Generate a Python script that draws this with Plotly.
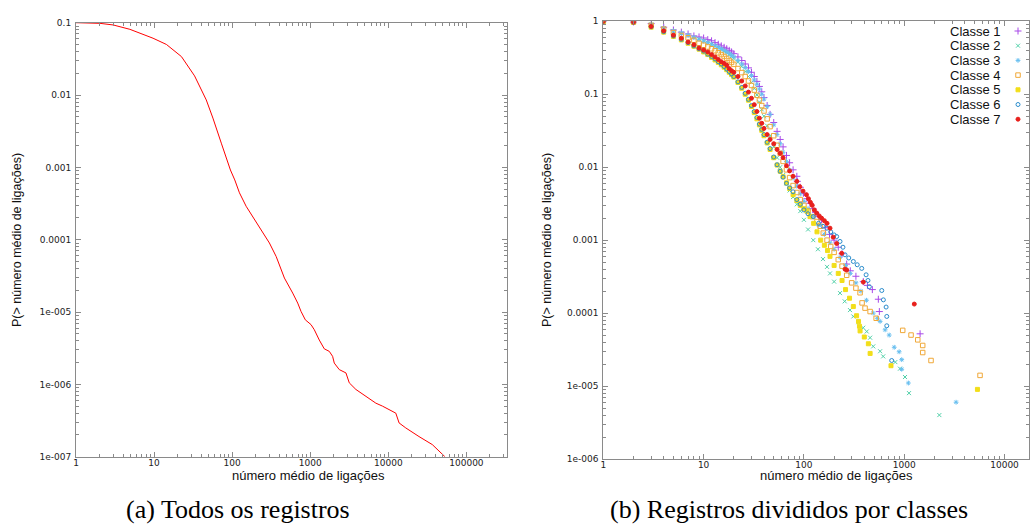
import plotly.graph_objects as go

# ---------------- data: (a) all records ----------------
all_x = [1, 2.03, 3.0, 4.9, 9.7, 14.4, 22.4, 33, 46.6, 56.7, 72.6, 88, 95, 108, 124, 151, 193, 247,
         300, 366, 444, 467, 596, 691, 762, 865, 1023, 1127, 1306, 1513, 1754, 1934, 2032, 2354,
         2866, 3160, 3846, 5160, 6920, 8420, 12470, 13740, 16720, 24700, 36600, 53100]
all_y = [0.1, 0.098, 0.093, 0.081, 0.061, 0.050, 0.034, 0.0184, 0.00855, 0.0048, 0.00216, 0.00114,
         9.2e-4, 6.7e-4, 4.45e-4, 2.9e-4, 1.88e-4, 1.24e-4, 9.0e-5, 5.86e-5, 3.46e-5, 2.95e-5,
         1.83e-5, 1.33e-5, 1.02e-5, 7.8e-6, 6.7e-6, 5.7e-6, 4.1e-6, 3.1e-6, 2.86e-6, 2.44e-6,
         1.97e-6, 1.6e-6, 1.44e-6, 1.05e-6, 8.5e-7, 6.8e-7, 5.5e-7, 5.0e-7, 4.0e-7, 2.93e-7,
         2.5e-7, 1.9e-7, 1.47e-7, 1e-7]

# ---------------- data: (b) records by class ----------------
base_x = [1, 2, 3, 4, 5, 6, 7, 8, 9, 10, 11, 12, 13, 14, 15, 16, 17, 18, 19, 20,
          22, 24, 26, 28, 30, 32, 34, 36, 38, 40, 43, 46, 50, 54, 58, 62, 67, 72, 78, 85, 92, 100]

c1_x = base_x[:40] + [86, 92, 99, 107, 115, 123, 131, 140, 150, 165, 180, 200, 220, 240, 267,
                      290, 330, 391, 430, 481, 552, 565, 1440]
c1_y = [1, 0.98, 0.93, 0.83, 0.76, 0.71, 0.67, 0.63, 0.61, 0.59, 0.56, 0.54, 0.51, 0.485, 0.46,
        0.44, 0.42, 0.40, 0.38, 0.36, 0.325, 0.29, 0.26, 0.23, 0.20, 0.175, 0.15, 0.128, 0.108,
        0.09, 0.07, 0.053, 0.041, 0.031, 0.024, 0.019, 0.0145, 0.0115, 0.0092, 0.0075,
        0.0064, 0.0053, 0.0044, 0.0037, 0.0032, 0.0027, 0.0024, 0.0021, 0.0019, 0.0015, 0.0012,
        0.001, 0.0008, 0.00065, 0.00047, 0.00038, 0.00032, 0.00027, 0.00024, 0.00021, 0.000155,
        0.000105, 5.2e-5]

c2_x = base_x + [110, 124, 138, 155, 170, 182, 200, 229, 255, 288, 311, 350, 390, 423, 457, 491,
                 575, 617, 815, 908, 1018, 1116, 2240]
c2_y = [1, 0.98, 0.9, 0.8, 0.73, 0.68, 0.64, 0.6, 0.57, 0.54, 0.51, 0.485, 0.46, 0.435, 0.41,
        0.39, 0.37, 0.35, 0.33, 0.31, 0.275, 0.24, 0.205, 0.175, 0.145, 0.12, 0.098, 0.078,
        0.062, 0.05, 0.037, 0.027, 0.019, 0.0135, 0.01, 0.0078, 0.006, 0.0048, 0.0039, 0.0031,
        0.0025, 0.0019, 0.0014, 0.001, 0.00075, 0.00055, 0.00043, 0.00035, 0.00027, 0.000188,
        0.000145, 0.00011, 9e-5, 7.5e-5, 6.3e-5, 5.6e-5, 4.6e-5, 3.5e-5, 3e-5, 2.55e-5, 2.13e-5,
        1.73e-5, 1.33e-5, 8e-6, 4e-6]

c3_x = base_x + [110, 124, 140, 160, 182, 200, 229, 260, 290, 330, 370, 420, 491, 540, 575, 645,
                 708, 795, 890, 944, 944, 1100, 3290]
c3_y = [1, 0.98, 0.91, 0.81, 0.74, 0.69, 0.645, 0.6, 0.565, 0.535, 0.51, 0.485, 0.46, 0.44,
        0.418, 0.398, 0.38, 0.36, 0.343, 0.325, 0.29, 0.26, 0.232, 0.205, 0.18, 0.157, 0.137,
        0.118, 0.1, 0.086, 0.068, 0.053, 0.038, 0.028, 0.021, 0.016, 0.012, 0.0092, 0.0071,
        0.0055, 0.0043, 0.0034, 0.0027, 0.0021, 0.0016, 0.0012, 0.00092, 0.00075, 0.00058,
        0.00045, 0.00035, 0.00026, 0.0002, 0.00015, 0.0001, 8.5e-5, 7.7e-5, 5.9e-5, 5e-5,
        3.4e-5, 2.95e-5, 2.3e-5, 1.7e-5, 1.1e-5, 6e-6]

c4_x = base_x + [110, 122, 135, 145, 156, 170, 185, 200, 220, 240, 267, 299, 330, 363, 380, 407,
                 457, 525, 966, 1170, 1365, 1528, 1528, 1850, 5700]
c4_y = [1, 0.98, 0.88, 0.78, 0.7, 0.64, 0.595, 0.55, 0.5, 0.47, 0.445, 0.42, 0.395, 0.37, 0.35,
        0.33, 0.31, 0.29, 0.273, 0.257, 0.225, 0.198, 0.175, 0.152, 0.132, 0.114, 0.097, 0.083,
        0.07, 0.059, 0.046, 0.036, 0.027, 0.02, 0.0155, 0.012, 0.0092, 0.0072, 0.0056, 0.0045,
        0.0036, 0.003, 0.0025, 0.0021, 0.0018, 0.00155, 0.00125, 0.001, 0.00082, 0.00068,
        0.00054, 0.00044, 0.00033, 0.00026, 0.00022, 0.00019, 0.000138, 0.000117, 0.000105,
        8.5e-5, 5.8e-5, 5e-5, 4.3e-5, 3.6e-5, 2.88e-5, 2.24e-5, 1.4e-5]

c5_x = base_x + [107, 115, 125, 135, 147, 160, 172, 182, 200, 220, 240, 260, 285, 311, 335, 350,
                 358, 363, 400, 439, 457, 738, 5370]
c5_y = [1, 0.97, 0.83, 0.71, 0.62, 0.555, 0.5, 0.455, 0.415, 0.38, 0.35, 0.32, 0.295, 0.273,
        0.253, 0.235, 0.217, 0.2, 0.186, 0.172, 0.145, 0.121, 0.1, 0.083, 0.068, 0.056, 0.046,
        0.038, 0.032, 0.027, 0.0215, 0.0175, 0.0135, 0.0107, 0.0088, 0.0074, 0.0061, 0.0051,
        0.0042, 0.0035, 0.003, 0.0027, 0.0025, 0.0021, 0.0017, 0.0013, 0.001, 0.00085, 0.00072,
        0.0006, 0.00045, 0.00035, 0.00028, 0.00021, 0.00016, 0.000123, 9.2e-5, 7.7e-5, 6.6e-5,
        5.7e-5, 4.7e-5, 3.8e-5, 2.8e-5, 1.9e-5, 9e-6]

c6_x = base_x + [110, 124, 140, 155, 169, 185, 200, 212, 229, 245, 257, 280, 311, 340, 377, 417,
                 435, 449, 597, 620, 660, 670, 670, 750]
c6_y = [1, 0.97, 0.84, 0.72, 0.63, 0.565, 0.51, 0.46, 0.42, 0.39, 0.355, 0.33, 0.305, 0.28,
        0.26, 0.24, 0.222, 0.205, 0.19, 0.175, 0.148, 0.124, 0.103, 0.085, 0.07, 0.058, 0.048,
        0.039, 0.033, 0.028, 0.022, 0.018, 0.0138, 0.0108, 0.0088, 0.0073, 0.006, 0.0052,
        0.0046, 0.0036, 0.0031, 0.0026, 0.0023, 0.0021, 0.0017, 0.00155, 0.00146, 0.0013,
        0.00118, 0.00112, 0.00096, 0.0008, 0.00063, 0.00057, 0.00051, 0.00046, 0.00041,
        0.000335, 0.00028, 0.00023, 0.000204, 0.000152, 0.000121, 9e-5, 6.7e-5, 2.24e-5]

c7_x = base_x[:40] + [91, 98, 106, 111, 116, 121, 127, 134, 142, 150, 160, 170, 182, 196, 212,
                      238, 257, 267, 391, 1260]
c7_y = [1, 0.975, 0.85, 0.74, 0.645, 0.585, 0.52, 0.478, 0.43, 0.405, 0.38, 0.35, 0.325, 0.30,
        0.28, 0.265, 0.25, 0.225, 0.21, 0.2, 0.175, 0.152, 0.13, 0.107, 0.088, 0.072, 0.058,
        0.047, 0.04, 0.034, 0.028, 0.024, 0.021, 0.0175, 0.0155, 0.0135, 0.0105, 0.0089,
        0.0075, 0.0064, 0.0054, 0.0047, 0.0042, 0.0037, 0.0033, 0.003, 0.0026, 0.00235,
        0.00215, 0.002, 0.00185, 0.0017, 0.00146, 0.0011, 0.0009, 0.00066, 0.0004, 0.00039,
        0.000266, 0.000133]

class_names = ["Classe 1", "Classe 2", "Classe 3", "Classe 4", "Classe 5", "Classe 6", "Classe 7"]
class_colors = ["#a848e8", "#50d0a8", "#68bff0", "#f0a838", "#f2de1a", "#2a8ccc", "#e8201c"]
class_symbols = ["cross-thin-open", "x-thin-open", "asterisk-open", "square-open", "square",
                 "circle-open", "circle"]
class_sizes = [5, 4, 4, 4.5, 4, 4, 4]

left_xticks = [1, 10, 100, 1000, 10000, 100000]
left_xtext = ["1", "10", "100", "1000", "10000", "100000"]
left_yticks = [1e-7, 1e-6, 1e-5, 1e-4, 1e-3, 1e-2, 1e-1]
left_ytext = ["1e-007", "1e-006", "1e-005", "0.0001", "0.001", "0.01", "0.1"]
right_xticks = [1, 10, 100, 1000, 10000]
right_xtext = ["1", "10", "100", "1000", "10000"]
right_yticks = [1e-6, 1e-5, 1e-4, 1e-3, 1e-2, 1e-1, 1]
right_ytext = ["1e-006", "1e-005", "0.0001", "0.001", "0.01", "0.1", "1"]

x_title = "número médio de ligações"
y_title = "P(> número médio de ligações)"
captions = ["(a) Todos os registros", "(b) Registros divididos por classes"]

# ---------------- figure ----------------
W, H = 1030, 524
def px(x):
    return x / W
def py(y):
    return 1 - y / H

def minor_vals(lo, hi):
    vals = []
    for e in range(lo, hi):
        for m in range(2, 10):
            vals.append(m * 10.0 ** e)
    return vals

fig = go.Figure()
fig.add_trace(go.Scatter(x=all_x, y=all_y, mode="lines", line=dict(color="#ff0000", width=1),
                         xaxis="x", yaxis="y", showlegend=False, hoverinfo="skip"))

class_x = [c1_x, c2_x, c3_x, c4_x, c5_x, c6_x, c7_x]
class_y = [c1_y, c2_y, c3_y, c4_y, c5_y, c6_y, c7_y]
for i in range(7):
    fig.add_trace(go.Scatter(
        x=class_x[i], y=class_y[i], mode="markers", name=class_names[i],
        marker=dict(symbol=class_symbols[i], size=class_sizes[i], color=class_colors[i],
                    line=dict(width=1, color=class_colors[i])),
        xaxis="x2", yaxis="y2", showlegend=False, cliponaxis=True))

# legend keys (gnuplot style: text then sample on the right)
for i in range(7):
    fig.add_trace(go.Scatter(
        x=[0.5], y=[i + 1], mode="markers",
        marker=dict(symbol=class_symbols[i], size=class_sizes[i], color=class_colors[i],
                    line=dict(width=1, color=class_colors[i])),
        xaxis="x3", yaxis="y3", showlegend=False, hoverinfo="skip"))

tickfont = dict(family="DejaVu Sans", size=9, color="#222")
def axis(lo, hi, **kw):
    d = dict(type="log", showline=True, linecolor="#8a8a8a", linewidth=1, mirror="ticks",
             ticks="inside", ticklen=5, tickcolor="#8a8a8a", showgrid=False, zeroline=False,
             tickfont=tickfont, automargin=False,
             minor=dict(ticks="inside", ticklen=3, tickcolor="#8a8a8a", showgrid=False,
                        tickmode="array", tickvals=minor_vals(lo, hi)))
    d.update(kw)
    return d

row0, dy = 31.0, 14.7
fig.update_layout(
    width=W, height=H, margin=dict(l=0, r=0, t=0, b=0, autoexpand=False),
    paper_bgcolor="white", plot_bgcolor="rgba(0,0,0,0)", showlegend=False,
    xaxis=axis(0, 6, domain=[px(76), px(507)], range=[0, 5.52], ticklabelstandoff=-3,
               tickmode="array", tickvals=left_xticks, ticktext=left_xtext, anchor="y"),
    yaxis=axis(-7, -1, domain=[py(456.7), py(22.7)], range=[-7, -1], ticklabelstandoff=2,
               tickmode="array", tickvals=left_yticks, ticktext=left_ytext, anchor="x"),
    xaxis2=axis(0, 5, domain=[px(603.3), px(1029)], range=[0, 4.244], ticklabelstandoff=-3,
                tickmode="array", tickvals=right_xticks, ticktext=right_xtext, anchor="y2"),
    yaxis2=axis(-6, 0, domain=[py(459), py(21.3)], range=[-6, 0], ticklabelstandoff=2,
                tickmode="array", tickvals=right_yticks, ticktext=right_ytext, anchor="x2"),
    xaxis3=dict(domain=[px(1008), px(1028)], range=[0, 1], visible=False, anchor="y3",
                automargin=False),
    yaxis3=dict(domain=[py(row0 + 6 * dy + dy / 2), py(row0 - dy / 2)], range=[7.5, 0.5],
                visible=False, anchor="x3", automargin=False),
)

ann = []
for i in range(7):
    ann.append(dict(text=class_names[i], x=px(1003), y=py(row0 + i * dy), xref="paper",
                    yref="paper", xanchor="right", yanchor="middle", showarrow=False,
                    font=dict(family="Liberation Sans", size=13, color="#111")))
for cx in (308, 836):
    ann.append(dict(text=x_title, x=px(cx), y=py(475), xref="paper", yref="paper",
                    xanchor="center", yanchor="middle", showarrow=False,
                    font=dict(family="Liberation Sans", size=13, color="#111")))
for cx in (17, 547):
    ann.append(dict(text=y_title, x=px(cx), y=py(240), xref="paper", yref="paper",
                    xanchor="center", yanchor="middle", showarrow=False, textangle=-90,
                    font=dict(family="Liberation Sans", size=12.5, color="#111")))
for cx, txt in zip((238, 789), captions):
    ann.append(dict(text=txt, x=px(cx), y=py(509), xref="paper", yref="paper",
                    xanchor="center", yanchor="middle", showarrow=False,
                    font=dict(family="Liberation Serif", size=26, color="#000")))
fig.update_layout(annotations=ann)

fig.write_html("out.html", config={"displayModeBar": False},
               post_script="document.body.style.margin='0';document.body.style.overflow='hidden';")
